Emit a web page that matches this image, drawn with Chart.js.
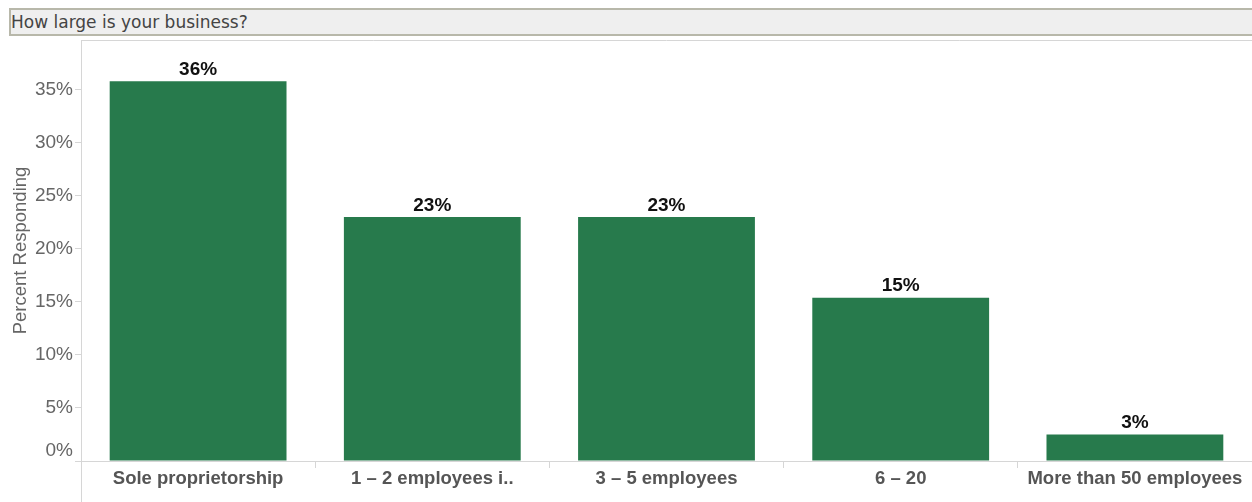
<!DOCTYPE html>
<html>
<head>
<meta charset="utf-8">
<script src="https://cdn.jsdelivr.net/npm/chart.js@4"></script>
<style>
    body { margin: 0; background: #fff; }
    #wrap { position: absolute; left: 0; top: 0; width: 1252px; height: 502px; }
    #title {
        position: absolute; left: 9px; top: 8px; width: 1250px; height: 24px;
        background: #efefef; border: 2px solid #b8b8aa; border-right: none;
        font: 17px "DejaVu Sans", Verdana, sans-serif; color: #444;
        line-height: 24px; padding-left: 0; box-sizing: content-box; z-index: 2;
    }
</style>
</head>
<body>
<div id="title">How large is your business?</div>
<div id="wrap"><canvas id="sizeBars" width="1252" height="502"></canvas></div>
<script>
const categories = [
    "Sole proprietorship",
    "1 \u2013 2 employees i..",
    "3 \u2013 5 employees",
    "6 \u2013 20",
    "More than 50 employees",
];
const percentResponding = [35.8, 23.0, 23.0, 15.4, 2.5];
const yTicks = [0, 5, 10, 15, 20, 25, 30, 35];

const barGreen = "#277a4c";
const lineGrey = "#d6d6d6";
const fontFam = "'Liberation Sans', Arial, sans-serif";

// value labels above bars, frame lines, and the lifted 0% label
const barLabels = {
    id: "barLabels",
    afterDatasetsDraw(chart) {
        const ctx = chart.ctx;
        const meta = chart.getDatasetMeta(0);
        ctx.save();
        ctx.font = "bold 19px " + fontFam;
        ctx.fillStyle = "#111";
        ctx.textAlign = "center";
        ctx.textBaseline = "bottom";
        meta.data.forEach((bar, i) => {
            ctx.fillText(Math.round(percentResponding[i]) + "%", bar.x, bar.y - 2);
        });
        // tableau nudges the bottom tick label up so it stays clear of the axis
        const y = chart.scales.y;
        ctx.font = "19px " + fontFam;
        ctx.fillStyle = "#666";
        ctx.textAlign = "right";
        ctx.textBaseline = "middle";
        ctx.fillText(yTicks[0] + "%", y.right - 8, y.getPixelForValue(yTicks[0]) - 10);
        ctx.restore();
    },
    beforeDraw(chart) {
        const ctx = chart.ctx;
        const area = chart.chartArea;
        ctx.save();
        ctx.strokeStyle = lineGrey;
        ctx.lineWidth = 1;
        ctx.beginPath();
        ctx.moveTo(area.left + 0.5, area.top);
        ctx.lineTo(area.left + 0.5, chart.height);
        ctx.moveTo(area.left, area.top + 0.5);
        ctx.lineTo(chart.width, area.top + 0.5);
        ctx.stroke();
        ctx.restore();
    },
};

new Chart(document.getElementById("sizeBars"), {
    type: "bar",
    data: {
        labels: categories,
        datasets: [{
            label: "Percent Responding",
            data: percentResponding,
            backgroundColor: barGreen,
            categoryPercentage: 0.755,
            barPercentage: 1,
        }],
    },
    options: {
        responsive: false,
        animation: false,
        layout: { padding: { top: 40, right: 0, left: 0, bottom: 0 } },
        plugins: {
            legend: { display: false },
            tooltip: { enabled: false },
        },
        scales: {
            x: {
                afterFit: (scale) => { scale.height = 41; },
                grid: {
                    offset: true,
                    drawOnChartArea: false,
                    tickLength: 7,
                    color: lineGrey,
                },
                border: { color: lineGrey },
                ticks: {
                    color: "#555",
                    padding: 0,
                    font: { family: fontFam, size: 18.5, weight: "bold" },
                },
            },
            y: {
                min: 0,
                max: 39.7,
                afterFit: (scale) => { scale.width = 81; },
                afterBuildTicks: (scale) => {
                    scale.ticks = yTicks.map((v) => ({ value: v }));
                },
                grid: {
                    drawOnChartArea: false,
                    tickLength: 6,
                    color: lineGrey,
                },
                border: { color: lineGrey },
                ticks: {
                    color: "#666",
                    padding: 2,
                    font: { family: fontFam, size: 19 },
                    callback: (v) => (v === 0 ? "" : v + "%"),
                },
                title: {
                    display: true,
                    text: "Percent Responding",
                    color: "#666",
                    padding: { top: 10, bottom: 0 },
                    font: { family: fontFam, size: 18.5 },
                },
            },
        },
    },
    plugins: [barLabels],
});
</script>
</body>
</html>
